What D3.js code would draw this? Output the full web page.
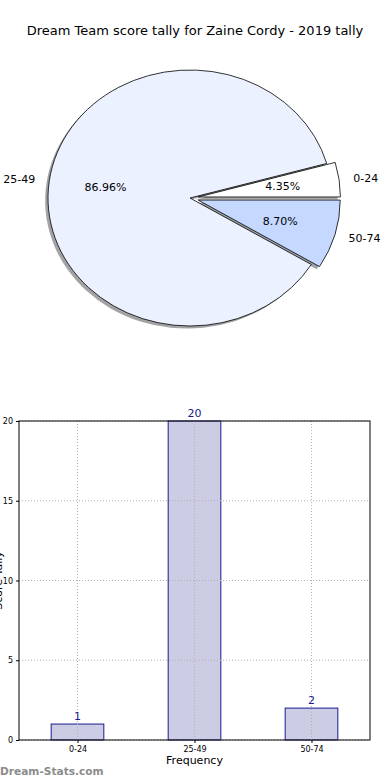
<!DOCTYPE html>
<html>
<head>
<meta charset="utf-8">
<script src="https://cdn.jsdelivr.net/npm/d3@7"></script>
<style>
  body { margin: 0; background: #fff; }
  text { font-family: "DejaVu Sans", sans-serif; }
</style>
</head>
<body>
<svg id="chart" width="390" height="780"></svg>
<script>
const categories = ["0-24", "25-49", "50-74"];
const counts = [1, 20, 2];
const pieColors = ["#ffffff", "#ebf1ff", "#c5d8ff"];
const explode = [0.06, 0, 0.06];
const yTicks = [0, 5, 10, 15, 20];

const svg = d3.select("#chart");

svg.append("text")
  .attr("x", 195).attr("y", 35)
  .attr("text-anchor", "middle")
  .attr("font-size", 13)
  .text("Dream Team score tally for Zaine Cordy - 2019 tally");

// ---- pie (matplotlib style: starts east, counter-clockwise, stretched) ----
const cx = 190, cy = 198, ry = 128, rx = 142;
const total = d3.sum(counts);

const pie = d3.pie().sort(null)
  .startAngle(Math.PI / 2)
  .endAngle(Math.PI / 2 - 2 * Math.PI);
const arcs = pie(counts);
const arc = d3.arc().innerRadius(0).outerRadius(ry);

// unit position for a d3 angle, scaled to the ellipse
const pos = (a, f) => [cx + Math.sin(a) * f * rx, cy - Math.cos(a) * f * ry];

const pieG = svg.append("g");

function wedgeTransform(d, i, dx, dy) {
  const mid = (d.startAngle + d.endAngle) / 2;
  const ox = Math.sin(mid) * explode[i] * rx + dx;
  const oy = -Math.cos(mid) * explode[i] * ry + dy;
  return `translate(${cx + ox},${cy + oy}) scale(${rx / ry},1)`;
}

// shadows behind all wedges
pieG.selectAll("path.shadow")
  .data(arcs)
  .join("path")
  .attr("class", "shadow")
  .attr("d", arc)
  .attr("transform", (d, i) => wedgeTransform(d, i, -0.02 * rx, 0.02 * ry))
  .attr("fill", (d, i) => {
    const c = d3.rgb(pieColors[i]);
    return d3.rgb(c.r * 0.3, c.g * 0.3, c.b * 0.3);
  })
  .attr("fill-opacity", 0.5);

pieG.selectAll("path.wedge")
  .data(arcs)
  .join("path")
  .attr("class", "wedge")
  .attr("d", arc)
  .attr("transform", (d, i) => wedgeTransform(d, i, 0, 0))
  .attr("fill", (d, i) => pieColors[i])
  .attr("stroke", "#000")
  .attr("stroke-width", 0.8)
  .attr("vector-effect", "non-scaling-stroke");

arcs.forEach((d, i) => {
  const mid = (d.startAngle + d.endAngle) / 2;
  const ex = Math.sin(mid) * explode[i] * rx;
  const ey = -Math.cos(mid) * explode[i] * ry;
  const [lx, ly] = pos(mid, 1.1);
  svg.append("text")
    .attr("x", lx + ex).attr("y", ly + ey)
    .attr("dy", "0.35em")
    .attr("text-anchor", Math.sin(mid) > 0 ? "start" : "end")
    .attr("font-size", 11)
    .text(categories[i]);
  const [px, py] = pos(mid, 0.6);
  svg.append("text")
    .attr("x", px + ex).attr("y", py + ey)
    .attr("dy", "0.35em")
    .attr("text-anchor", "middle")
    .attr("font-size", 11)
    .text((counts[i] / total * 100).toFixed(2) + "%");
});

// ---- bar chart ----
const plotL = 19, plotR = 370, plotT = 421, plotB = 740;
const x = d3.scaleLinear().domain([-0.5, 2.5]).range([plotL, plotR]);
const y = d3.scaleLinear().domain([0, 20]).range([plotB, plotT]);
const barW = 0.45;

const barG = svg.append("g");

barG.selectAll("rect.bar")
  .data(counts)
  .join("rect")
  .attr("class", "bar")
  .attr("x", (d, i) => x(i - barW / 2))
  .attr("width", x(barW) - x(0))
  .attr("y", d => y(d))
  .attr("height", d => y(0) - y(d))
  .attr("fill", "#ccccE4")
  .attr("stroke", "#1a1a8c")
  .attr("stroke-width", 1);

// grid
barG.selectAll("line.hgrid")
  .data(yTicks)
  .join("line")
  .attr("class", "hgrid")
  .attr("x1", plotL).attr("x2", plotR)
  .attr("y1", d => y(d)).attr("y2", d => y(d))
  .attr("stroke", "#b0b0b0")
  .attr("stroke-dasharray", "1,2");
barG.selectAll("line.vgrid")
  .data(categories)
  .join("line")
  .attr("class", "vgrid")
  .attr("x1", (d, i) => x(i)).attr("x2", (d, i) => x(i))
  .attr("y1", plotT).attr("y2", plotB)
  .attr("stroke", "#b0b0b0")
  .attr("stroke-dasharray", "1,2");

barG.append("rect")
  .attr("x", plotL).attr("y", plotT)
  .attr("width", plotR - plotL).attr("height", plotB - plotT)
  .attr("fill", "none")
  .attr("stroke", "#000")
  .attr("stroke-width", 1);

const yAxis = barG.append("g")
  .attr("transform", `translate(${plotL},0)`)
  .call(d3.axisLeft(y).tickValues(yTicks).tickSize(3).tickSizeOuter(0));
yAxis.select(".domain").remove();
yAxis.selectAll("text").attr("font-size", 8).attr("font-family", "DejaVu Sans");

const xAxis = barG.append("g")
  .attr("transform", `translate(0,${plotB})`)
  .call(d3.axisBottom(x).tickValues([0, 1, 2]).tickFormat(i => categories[i]).tickSize(3).tickSizeOuter(0));
xAxis.select(".domain").remove();
xAxis.selectAll("text").attr("font-size", 8).attr("font-family", "DejaVu Sans");

barG.selectAll("text.val")
  .data(counts)
  .join("text")
  .attr("class", "val")
  .attr("x", (d, i) => x(i))
  .attr("y", d => y(d) - 4)
  .attr("text-anchor", "middle")
  .attr("font-size", 11)
  .attr("fill", "#1a1a8c")
  .text(d => d);

svg.append("text")
  .attr("x", (plotL + plotR) / 2).attr("y", 764)
  .attr("text-anchor", "middle")
  .attr("font-size", 11)
  .text("Frequency");

// y label sits partly off the left edge, as in the original
svg.append("text")
  .attr("transform", `translate(2,${(plotT + plotB) / 2}) rotate(-90)`)
  .attr("text-anchor", "middle")
  .attr("font-size", 11)
  .text("Score Tally");

svg.append("text")
  .attr("x", 0).attr("y", 775)
  .attr("font-size", 10.6)
  .attr("font-weight", "bold")
  .attr("fill", "#8c8c8c")
  .text("Dream-Stats.com");
</script>
</body>
</html>
